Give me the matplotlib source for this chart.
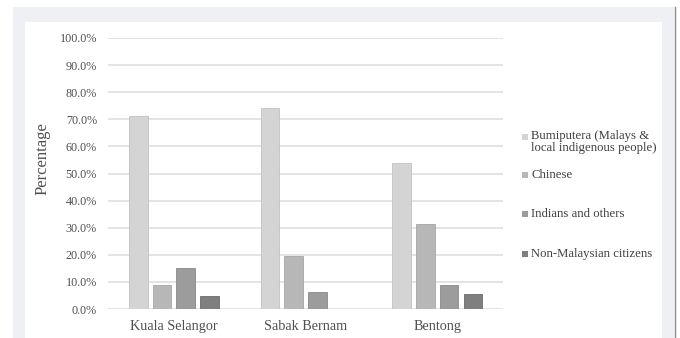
import matplotlib
matplotlib.use("Agg")
import matplotlib.pyplot as plt
from matplotlib.patches import Rectangle
from matplotlib.lines import Line2D
from matplotlib.ticker import FuncFormatter
import numpy as np

# Data: share of population by ethnic group per district (%)
districts = ["Kuala Selangor", "Sabak Bernam", "Bentong"]
groups = ["Bumiputera (Malays &\nlocal indigenous people)", "Chinese",
          "Indians and others", "Non-Malaysian citizens"]
bumiputera = [71.2, 74.3, 54.0]
chinese = [8.9, 19.5, 31.2]
indians = [15.1, 6.4, 8.7]
non_citizens = [4.8, 0.0, 5.5]
yticks = [0, 10, 20, 30, 40, 50, 60, 70, 80, 90, 100]

series = [bumiputera, chinese, indians, non_citizens]
fills = ["#d4d4d4", "#b7b7b7", "#9c9c9c", "#7f7f7f"]
edges = ["#c2c2c2", "#a6a6a6", "#8a8a8a", "#6c6c6c"]

W, H = 680, 338
fig = plt.figure(figsize=(W / 100, H / 100), dpi=100)
fig.patch.set_facecolor("white")

def px_rect(x0, y0, x1, y1, **kw):
    # rectangle given in pixel coords measured from the top-left corner
    return Rectangle((x0 / W, 1 - y1 / H), (x1 - x0) / W, (y1 - y0) / H,
                     transform=fig.transFigure, **kw)

# page frame and inner white panel
fig.patches.append(px_rect(13, 7, 674, 338, facecolor="#eff0f6", edgecolor="none", zorder=-3))
fig.patches.append(px_rect(25, 22, 662, 338, facecolor="white", edgecolor="none", zorder=-2))
fig.lines.append(Line2D([674.5 / W, 674.5 / W], [0, 1 - 7 / H], transform=fig.transFigure,
                        color="#8a8a8a", lw=1.0, zorder=-1))

serif = ["Liberation Serif", "DejaVu Serif"]
txt = "#505050"

ax = fig.add_axes([108 / W, (H - 309) / H, 395 / W, 271 / H])
ax.set_zorder(1)
ax.set_facecolor("none")

x = np.arange(len(districts)) + 0.5
pitch, width = 0.18, 0.14
for k, vals in enumerate(series):
    ax.bar(x + (k - 1.5) * pitch, vals, width, color=fills[k], edgecolor=edges[k],
           linewidth=0.6, zorder=3)

ax.set_xlim(0, 3)
ax.set_ylim(0, 100)
ax.set_yticks(yticks)
ax.yaxis.set_major_formatter(FuncFormatter(lambda v, p: f"{v:.1f}%"))
ax.grid(axis="y", color="#dcdcdc", lw=1.1, zorder=0)
ax.set_axisbelow(True)
ax.set_xticks(x)
ax.set_xticklabels(districts, fontfamily=serif, fontsize=10.2, color=txt)
ax.tick_params(axis="x", length=0, pad=8)
ax.tick_params(axis="y", length=0, pad=8, labelsize=8.7, labelcolor=txt)
for lab in ax.get_yticklabels():
    lab.set_fontfamily(serif)
for s in ax.spines.values():
    s.set_visible(False)

ax.set_ylabel("Percentage", fontfamily=serif, fontsize=12, color=txt)
ax.yaxis.set_label_coords(-0.145, 0.555)

# legend drawn at the right of the plot
leg_y = [137, 175, 214, 254]
for k, (lab, yy) in enumerate(zip(groups, leg_y)):
    fig.patches.append(px_rect(522, yy - 3, 528, yy + 3, facecolor=fills[k],
                               edgecolor="none", zorder=2))
    if "\n" in lab:
        fig.text(531 / W, 1 - (yy - 7) / H, lab, ha="left", va="top",
                 fontfamily=serif, fontsize=9.2, color="#404040", linespacing=0.95)
    else:
        fig.text(531 / W, 1 - yy / H, lab, ha="left", va="center",
                 fontfamily=serif, fontsize=9.2, color="#404040")

fig.savefig("out.png", dpi=100, facecolor="white")
